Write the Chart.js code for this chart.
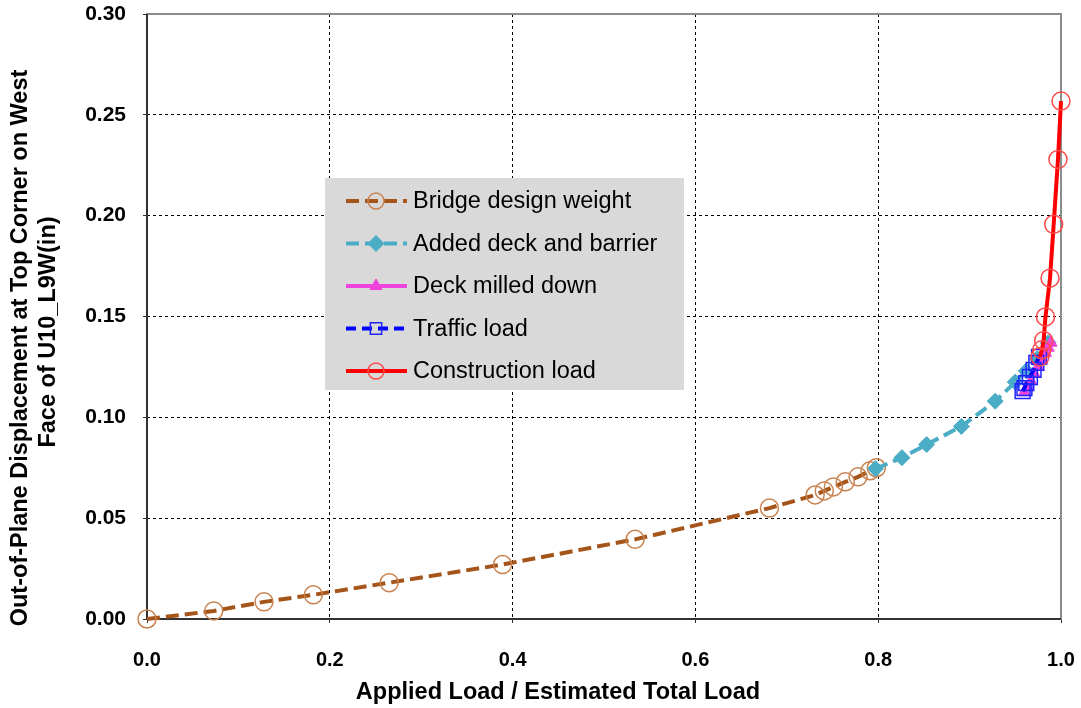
<!DOCTYPE html>
<html>
<head>
<meta charset="utf-8">
<script src="https://cdn.jsdelivr.net/npm/chart.js"></script>
<style>
  body { margin: 0; background: #fff; }
  #wrap { width: 1081px; height: 708px; }
</style>
</head>
<body>
<div id="wrap"><canvas id="chart" width="1081" height="708"></canvas></div>
<script>
// values
const seriesNames = ["Bridge design weight", "Added deck and barrier", "Deck milled down", "Traffic load", "Construction load"];

const bridgeX = [0, 0.073, 0.128, 0.182, 0.265, 0.389, 0.534, 0.681, 0.731, 0.741, 0.751, 0.764, 0.778, 0.791, 0.798];
const bridgeY = [0, 0.004, 0.0085, 0.012, 0.018, 0.027, 0.0395, 0.055, 0.0615, 0.0635, 0.0655, 0.068, 0.0705, 0.0735, 0.075];

const deckX = [0.797, 0.826, 0.853, 0.891, 0.928, 0.950, 0.962, 0.974, 0.986];
const deckY = [0.0745, 0.080, 0.0865, 0.0955, 0.108, 0.1175, 0.123, 0.129, 0.137];

const milledX = [0.960, 0.963, 0.967, 0.971, 0.975, 0.979, 0.983, 0.986, 0.989];
const milledY = [0.1125, 0.115, 0.118, 0.1215, 0.125, 0.1285, 0.132, 0.1345, 0.137];

const trafficX = [0.958, 0.960, 0.962, 0.966, 0.970, 0.973, 0.976];
const trafficY = [0.113, 0.1145, 0.117, 0.120, 0.1235, 0.127, 0.130];

const constrX = [0.977, 0.979, 0.981, 0.983, 0.988, 0.992, 0.9967, 1.0];
const constrY = [0.130, 0.1335, 0.138, 0.1498, 0.169, 0.1957, 0.2279, 0.2568];

const xTicks = [0, 0.2, 0.4, 0.6, 0.8, 1.0];
const yTicks = [0, 0.05, 0.10, 0.15, 0.20, 0.25, 0.30];

const xTitle = "Applied Load / Estimated Total Load";
const yTitle = ["Out-of-Plane Displacement at Top Corner on West", "Face of U10_L9W(in)"];

const sans = "'Liberation Sans', Arial, sans-serif";

function pts(xs, ys) {
    return xs.map((x, i) => ({ x: x, y: ys[i] }));
}

const styles = [
    { line: "#a5541a", dash: [13, 6], width: 4, marker: "circle", mColor: "#c8824e", fill: "rgba(0,0,0,0)", r: 9, mWidth: 1.5 },
    { line: "#4bacc6", dash: [13, 6], width: 4, marker: "rectRot", mColor: "#4bacc6", fill: "#4bacc6", r: 8, mWidth: 1 },
    { line: "#ee44dd", dash: [], width: 4, marker: "triangle", mColor: "#ee44dd", fill: "#ee44dd", r: 7, mWidth: 1 },
    { line: "#0000ff", dash: [10, 6], width: 4, marker: "rect", mColor: "#2222ff", fill: "rgba(0,0,0,0)", r: 10.5, mWidth: 1.5 },
    { line: "#ff0000", dash: [], width: 4, marker: "circle", mColor: "#ff4848", fill: "rgba(0,0,0,0)", r: 9, mWidth: 1.5 }
];

const seriesData = [
    pts(bridgeX, bridgeY),
    pts(deckX, deckY),
    pts(milledX, milledY),
    pts(trafficX, trafficY),
    pts(constrX, constrY)
];

const datasets = seriesData.map((d, i) => {
    const s = styles[i];
    return {
        label: seriesNames[i],
        data: d,
        showLine: true,
        clip: false,
        borderColor: s.line,
        borderWidth: s.width,
        borderDash: s.dash,
        pointStyle: s.marker,
        pointRadius: s.r,
        pointBorderColor: s.mColor,
        pointBackgroundColor: s.fill,
        pointBorderWidth: s.mWidth,
        order: 5 - i
    };
});

// no extra room for overflowing tick labels, the plot box is fixed by layout padding
function noOverflow(s) {
    s.paddingTop = 0;
    s.paddingBottom = 0;
    s.paddingLeft = 0;
    s.paddingRight = 0;
}

// gray frame around the plot area
const framePlugin = {
    id: "frame",
    beforeDatasetsDraw(chart) {
        const a = chart.chartArea, ctx = chart.ctx;
        ctx.save();
        ctx.strokeStyle = "#8c8c8c";
        ctx.lineWidth = 2;
        ctx.strokeRect(a.left, a.top, a.right - a.left, a.bottom - a.top);
        ctx.strokeStyle = "#333";
        ctx.beginPath();
        ctx.moveTo(a.left, a.top);
        ctx.lineTo(a.left, a.bottom);
        ctx.lineTo(a.right, a.bottom);
        ctx.stroke();
        ctx.restore();
    }
};

// axis titles, placed like the original (not centred on the plot)
const titlePlugin = {
    id: "axisTitles",
    afterDraw(chart) {
        const ctx = chart.ctx;
        ctx.save();
        ctx.fillStyle = "#000";
        ctx.font = "bold 23.5px " + sans;
        ctx.textAlign = "center";
        ctx.textBaseline = "middle";
        ctx.fillText(xTitle, 558, 693);
        ctx.translate(21, 348);
        ctx.rotate(-Math.PI / 2);
        ctx.fillText(yTitle[0], 0, 0);
        ctx.fillText(yTitle[1], 16, 28);
        ctx.restore();
    }
};

function drawMarker(ctx, s, x, y) {
    ctx.save();
    ctx.setLineDash([]);
    ctx.strokeStyle = s.mColor;
    ctx.fillStyle = s.fill;
    ctx.lineWidth = s.mWidth;
    ctx.beginPath();
    const r = s.r;
    if (s.marker === "circle") {
        ctx.arc(x, y, r, 0, Math.PI * 2);
    } else if (s.marker === "rectRot") {
        ctx.moveTo(x, y - r); ctx.lineTo(x + r, y); ctx.lineTo(x, y + r); ctx.lineTo(x - r, y); ctx.closePath();
    } else if (s.marker === "triangle") {
        ctx.moveTo(x, y - r); ctx.lineTo(x + r * 0.87, y + r * 0.5); ctx.lineTo(x - r * 0.87, y + r * 0.5); ctx.closePath();
    } else {
        const h = r * Math.SQRT1_2;
        ctx.rect(x - h, y - h, 2 * h, 2 * h);
    }
    ctx.fill();
    ctx.stroke();
    ctx.restore();
}

// legend box inside the plot, as in the original
const legendPlugin = {
    id: "boxLegend",
    afterDatasetsDraw(chart) {
        const ctx = chart.ctx;
        const bx = 325, by = 178, bw = 359, bh = 212;
        ctx.save();
        ctx.fillStyle = "#d9d9d9";
        ctx.fillRect(bx, by, bw, bh);
        ctx.font = "23.5px " + sans;
        ctx.textBaseline = "middle";
        ctx.textAlign = "left";
        styles.forEach((s, i) => {
            const cy = 201 + i * 42.5;
            ctx.strokeStyle = s.line;
            ctx.lineWidth = s.width;
            ctx.setLineDash(s.dash);
            ctx.beginPath();
            ctx.moveTo(346, cy);
            ctx.lineTo(407, cy);
            ctx.stroke();
            drawMarker(ctx, Object.assign({}, s, { r: Math.min(s.r, 8) }), 376, cy);
            ctx.fillStyle = "#000";
            ctx.fillText(seriesNames[i], 413, cy + 1);
        });
        ctx.restore();
    }
};

new Chart(document.getElementById("chart"), {
    type: "scatter",
    data: { datasets: datasets },
    options: {
        responsive: false,
        animation: false,
        layout: { padding: { top: 14, right: 20, left: 0, bottom: 0 } },
        plugins: {
            legend: { display: false },
            tooltip: { enabled: false }
        },
        scales: {
            x: {
                type: "linear",
                min: 0,
                max: 1,
                afterFit: s => { noOverflow(s); s.height = 89; },
                afterBuildTicks: s => { s.ticks = xTicks.map(v => ({ value: v })); },
                ticks: {
                    padding: 25,
                    color: "#000",
                    font: { family: sans, size: 20, weight: "bold" },
                    callback: v => v.toFixed(1)
                },
                grid: {
                    color: ctx => (ctx.tick && (ctx.tick.value === 0 || ctx.tick.value === 1)) ? "rgba(0,0,0,0)" : "#000",
                    lineWidth: 1,
                    drawTicks: true,
                    tickLength: 4,
                    tickColor: "#333"
                },
                border: { display: false, dash: [3, 3] },
                title: { display: false }
            },
            y: {
                type: "linear",
                min: 0,
                max: 0.3,
                afterFit: s => { noOverflow(s); s.width = 147; },
                afterBuildTicks: s => { s.ticks = yTicks.map(v => ({ value: v })); },
                ticks: {
                    padding: 17,
                    color: "#000",
                    font: { family: sans, size: 21, weight: "bold" },
                    callback: v => v.toFixed(2)
                },
                grid: {
                    color: ctx => (ctx.tick && (ctx.tick.value === 0 || Math.abs(ctx.tick.value - 0.3) < 1e-9)) ? "rgba(0,0,0,0)" : "#000",
                    lineWidth: 1,
                    drawTicks: true,
                    tickLength: 4,
                    tickColor: "#333"
                },
                border: { display: false, dash: [3, 3] },
                title: { display: false }
            }
        }
    },
    plugins: [framePlugin, legendPlugin, titlePlugin]
});
</script>
</body>
</html>
